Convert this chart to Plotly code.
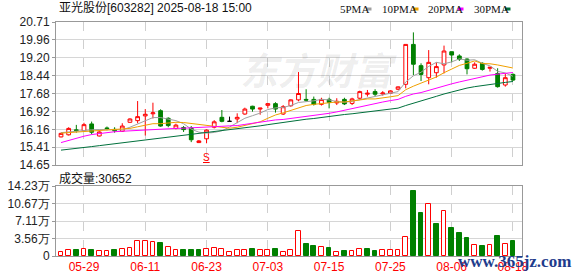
import plotly.graph_objects as go

# ---------------- data ----------------
tick_idx = [3, 11, 19, 27, 35, 43, 51, 59]
tick_labels = ["05-29", "06-11", "06-23", "07-03", "07-15", "07-25", "08-06", "08-18"]

opens = [15.84, 15.93, 16.14, 16.11, 16.39, 15.88, 16.22, 16.16, 16.08, 16.46,
         16.53, 16.73, 16.82, 16.95, 16.63, 16.20, 16.24, 16.22, 15.60, 15.76,
         16.25, 16.67, 16.50, 16.60, 16.81, 17.14, 17.02, 17.18, 17.25, 16.81,
         17.16, 17.41, 17.43, 17.43, 17.22, 17.43, 17.28, 17.43, 17.26, 17.48,
         17.65, 17.76, 17.66, 17.69, 17.86, 18.07, 19.76, 18.86, 18.35, 18.56,
         18.89, 19.45, 19.27, 19.14, 18.75, 18.96, 18.75, 18.53, 18.04, 18.49]
highs = [16.02, 16.25, 16.35, 16.44, 16.49, 16.08, 16.28, 16.25, 16.42, 16.63,
         17.36, 17.02, 17.29, 17.01, 16.67, 16.40, 16.30, 16.30, 15.71, 16.16,
         16.55, 16.98, 16.70, 16.84, 17.08, 17.16, 17.07, 17.26, 17.31, 17.19,
         17.43, 18.59, 17.86, 17.55, 17.50, 17.50, 17.48, 17.50, 17.50, 17.80,
         17.83, 17.86, 17.78, 17.82, 17.98, 19.76, 20.27, 18.96, 19.52, 19.00,
         19.71, 19.46, 19.34, 19.17, 19.00, 19.00, 18.80, 18.75, 18.53, 18.53]
lows = [15.82, 15.90, 16.02, 16.08, 15.95, 15.86, 16.12, 16.02, 16.05, 16.44,
        16.42, 15.90, 16.62, 16.27, 16.25, 16.16, 16.05, 15.62, 15.58, 15.57,
        16.20, 16.46, 16.48, 16.42, 16.78, 16.91, 16.78, 17.05, 16.87, 16.77,
        17.12, 17.35, 17.33, 17.17, 17.17, 17.05, 17.19, 17.19, 17.19, 17.43,
        17.55, 17.57, 17.59, 17.66, 17.82, 17.90, 18.46, 18.21, 18.07, 18.35,
        18.53, 19.00, 19.06, 18.49, 18.73, 18.65, 18.61, 17.93, 17.97, 18.21]
closes = [15.99, 16.20, 16.11, 16.36, 16.04, 16.05, 16.19, 16.10, 16.30, 16.60,
          16.70, 16.80, 16.86, 16.30, 16.32, 16.34, 16.15, 15.72, 15.67, 16.13,
          16.48, 16.50, 16.50, 16.67, 17.02, 17.02, 17.06, 17.25, 17.02, 17.12,
          17.41, 17.68, 17.40, 17.22, 17.43, 17.30, 17.35, 17.24, 17.45, 17.76,
          17.69, 17.65, 17.70, 17.79, 17.96, 19.76, 18.92, 18.49, 19.00, 18.82,
          19.48, 19.31, 19.13, 18.73, 18.92, 18.70, 18.79, 17.97, 18.35, 18.25]

# volume in 手
volumes = [9000, 13000, 11700, 15000, 11700, 11000, 9600, 11700, 15000, 17000,
           31500, 31500, 28000, 26000, 19200, 13000, 13000, 13000, 11700, 15000,
           17000, 15000, 9000, 13000, 13000, 15000, 11700, 11700, 15000, 9000,
           13000, 50000, 24000, 21000, 19000, 15800, 9000, 11000, 11000, 14500,
           15000, 11000, 12300, 12300, 12300, 37700, 132000, 87000, 105000, 65000,
           92500, 56000, 46000, 35600, 23300, 21000, 23300, 39700, 25300, 30652]
# volume colour: 1 = rise vs previous close (red hollow), 0 = fall (green)
vol_up = [1, 1, 0, 1, 0, 1, 1, 0, 1, 1,
          1, 1, 1, 0, 1, 1, 0, 0, 0, 1,
          1, 1, 1, 1, 1, 0, 1, 1, 0, 1,
          1, 1, 0, 0, 1, 0, 1, 0, 1, 1,
          0, 0, 1, 1, 1, 1, 0, 0, 1, 0,
          1, 0, 0, 0, 1, 0, 1, 0, 1, 0]

ma5 = [16.02, 16.05, 16.08, 16.14, 16.14, 16.15, 16.15, 16.15, 16.14, 16.25,
       16.38, 16.50, 16.66, 16.66, 16.60, 16.53, 16.40, 16.17, 16.04, 16.00,
       16.03, 16.10, 16.26, 16.46, 16.63, 16.74, 16.85, 17.00, 17.07, 17.09,
       17.17, 17.30, 17.33, 17.37, 17.43, 17.41, 17.34, 17.31, 17.35, 17.42,
       17.50, 17.56, 17.65, 17.72, 17.76, 18.17, 18.43, 18.58, 18.83, 19.00,
       18.94, 19.02, 19.15, 19.09, 19.11, 18.96, 18.85, 18.62, 18.55, 18.41]
ma10 = [16.00, 16.02, 16.04, 16.07, 16.08, 16.09, 16.12, 16.14, 16.17, 16.20,
        16.27, 16.33, 16.40, 16.40, 16.43, 16.46, 16.45, 16.41, 16.35, 16.30,
        16.28, 16.25, 16.21, 16.25, 16.32, 16.39, 16.48, 16.63, 16.77, 16.86,
        16.96, 17.08, 17.17, 17.22, 17.26, 17.29, 17.32, 17.32, 17.36, 17.42,
        17.45, 17.45, 17.48, 17.54, 17.59, 17.84, 17.99, 18.12, 18.27, 18.38,
        18.56, 18.72, 18.87, 18.96, 19.06, 18.95, 18.94, 18.89, 18.82, 18.76]
ma20 = [15.60, 15.70, 15.79, 15.87, 15.94, 15.99, 16.03, 16.06, 16.08, 16.10,
        16.12, 16.14, 16.16, 16.18, 16.19, 16.20, 16.21, 16.22, 16.23, 16.25,
        16.27, 16.29, 16.31, 16.32, 16.37, 16.42, 16.46, 16.52, 16.56, 16.58,
        16.62, 16.66, 16.69, 16.73, 16.79, 16.84, 16.90, 16.97, 17.06, 17.14,
        17.20, 17.26, 17.32, 17.38, 17.43, 17.56, 17.66, 17.72, 17.82, 17.90,
        18.00, 18.09, 18.17, 18.25, 18.32, 18.39, 18.46, 18.50, 18.55, 18.57]
ma30 = [15.28, 15.31, 15.35, 15.38, 15.43, 15.47, 15.51, 15.55, 15.58, 15.62,
        15.67, 15.71, 15.75, 15.79, 15.82, 15.86, 15.90, 15.93, 15.96, 16.00,
        16.05, 16.09, 16.13, 16.17, 16.21, 16.26, 16.31, 16.36, 16.41, 16.45,
        16.50, 16.55, 16.59, 16.62, 16.67, 16.71, 16.75, 16.79, 16.82, 16.86,
        16.90, 16.92, 16.95, 17.00, 17.06, 17.17, 17.26, 17.35, 17.47, 17.56,
        17.66, 17.75, 17.84, 17.91, 17.97, 18.02, 18.08, 18.11, 18.15, 18.19]

price_ticks = [14.65, 15.41, 16.16, 16.92, 17.68, 18.44, 19.20, 19.96, 20.71]
vol_ticks = [0, 35575, 71150, 106725, 142300]
vol_tick_text = ["0", "3.56万", "7.11万", "10.67万", "14.23万"]

title_text = "亚光股份[603282] 2025-08-18 15:00"
vol_label = "成交量:30652"

# ---------------- styles ----------------
RED = "#ff0000"
GREEN = "#008000"
MA_COLORS = ["#a0a0a0", "#f0a000", "#ff00ff", "#00703c"]
MA_NAMES = ["5PMA", "10PMA", "20PMA", "30PMA"]

W, H = 578, 276
L, R, T, B = 56, 56, 22, 20
PW, PH = W - L - R, H - T - B


def px(X):
    return (X - L) / PW


def py(Y):
    return (H - B - Y) / PH


n = len(closes)
idx = list(range(n))
up = [i for i in idx if closes[i] > opens[i]]
dn = [i for i in idx if closes[i] < opens[i]]
dj = [i for i in idx if closes[i] == opens[i]]


def sub(arr, ii):
    return [arr[i] for i in ii]


fig = go.Figure()

fig.add_trace(go.Candlestick(
    x=up, open=sub(opens, up), high=sub(highs, up), low=sub(lows, up), close=sub(closes, up),
    increasing=dict(line=dict(color=RED, width=1), fillcolor="white"),
    decreasing=dict(line=dict(color=RED, width=1), fillcolor="white"),
    xaxis="x", yaxis="y", showlegend=False, hoverinfo="skip"))
fig.add_trace(go.Candlestick(
    x=dn, open=sub(opens, dn), high=sub(highs, dn), low=sub(lows, dn), close=sub(closes, dn),
    increasing=dict(line=dict(color=GREEN, width=1), fillcolor=GREEN),
    decreasing=dict(line=dict(color=GREEN, width=1), fillcolor=GREEN),
    xaxis="x", yaxis="y", showlegend=False, hoverinfo="skip"))
fig.add_trace(go.Candlestick(
    x=dj, open=sub(opens, dj), high=sub(highs, dj), low=sub(lows, dj), close=sub(closes, dj),
    increasing=dict(line=dict(color="black", width=1), fillcolor="black"),
    decreasing=dict(line=dict(color="black", width=1), fillcolor="black"),
    xaxis="x", yaxis="y", showlegend=False, hoverinfo="skip"))

for ma, col, name in zip([ma5, ma10, ma20, ma30], MA_COLORS, MA_NAMES):
    fig.add_trace(go.Scatter(x=idx, y=ma, mode="lines", name=name,
                             line=dict(color=col, width=1), xaxis="x", yaxis="y",
                             showlegend=False, hoverinfo="skip"))

fig.add_trace(go.Bar(
    x=idx, y=volumes, width=0.62,
    marker=dict(color=["white" if u else GREEN for u in vol_up],
                line=dict(color=[RED if u else GREEN for u in vol_up], width=1)),
    xaxis="x2", yaxis="y2", showlegend=False, hoverinfo="skip"))

axis_common = dict(showline=True, mirror=True, linecolor="#999999", linewidth=1,
                   zeroline=False, automargin=False)
xr = [-0.653, 60.18]

fig.update_layout(
    width=W, height=H, margin=dict(l=L, r=R, t=T, b=B, autoexpand=False),
    paper_bgcolor="white", plot_bgcolor="white",
    font=dict(family="Liberation Sans, Arial, sans-serif", size=12, color="#222222"),
    bargap=0,
    xaxis=dict(domain=[0, 1], anchor="y", range=xr, tickvals=tick_idx,
               showticklabels=False, showgrid=True, gridcolor="#cfcfcf",
               griddash="dash", ticks="", rangeslider=dict(visible=False),
               **axis_common),
    yaxis=dict(domain=[py(165), 1], anchor="x", range=[14.65, 20.71],
               tickvals=price_ticks, ticktext=[f"{v:.2f}" for v in price_ticks],
               showgrid=True, gridcolor="#d6d6d6", ticks="outside", ticklen=3,
               tickcolor="#999999", tickfont=dict(size=12, color="#222222"),
               **axis_common),
    xaxis2=dict(domain=[0, 1], anchor="y2", range=xr, tickvals=tick_idx,
                ticktext=tick_labels, tickfont=dict(size=12, color=RED),
                showgrid=True, gridcolor="#cfcfcf", griddash="dash", ticks="",
                rangeslider=dict(visible=False), **axis_common),
    yaxis2=dict(domain=[0, py(186)], anchor="x2", range=[0, 142300],
                tickvals=vol_ticks, ticktext=vol_tick_text,
                showgrid=True, gridcolor="#d6d6d6", ticks="outside", ticklen=3,
                tickcolor="#999999", tickfont=dict(size=12, color="#222222"),
                **axis_common),
)

ann = []
ann.append(dict(text=title_text, x=px(57), y=py(8), xref="paper", yref="paper",
                xanchor="left", yanchor="middle", showarrow=False,
                font=dict(size=12, color="#111111",
                          family="Liberation Sans, Noto Sans CJK SC, sans-serif")))
ann.append(dict(text=vol_label, x=px(57), y=py(178), xref="paper", yref="paper",
                xanchor="left", yanchor="middle", showarrow=False,
                font=dict(size=12, color="#111111",
                          family="Liberation Sans, Noto Sans CJK SC, sans-serif")))

leg_x = [338, 380, 426, 472]
sw_x = [366, 413, 458, 505]
shapes = []
for lx, sx, name, col in zip(leg_x, sw_x, MA_NAMES, MA_COLORS):
    ann.append(dict(text=name, x=px(lx), y=py(9), xref="paper", yref="paper",
                    xanchor="left", yanchor="middle", showarrow=False,
                    font=dict(size=11, color="#111111",
                              family="Liberation Serif, serif")))
    shapes.append(dict(type="rect", xref="paper", yref="paper",
                       x0=px(sx), x1=px(sx + 5.5), y0=py(10.5), y1=py(7.5),
                       fillcolor=col, line=dict(width=0)))

# dividend marker
ann.append(dict(text="<u>S</u>", x=19, y=14.96, xref="x", yref="y", showarrow=False,
                xanchor="center", yanchor="middle",
                font=dict(size=10, color=RED, family="Liberation Sans")))

# watermarks
ann.append(dict(text="东方财富", x=px(318), y=py(68), xref="paper", yref="paper",
                showarrow=False, xanchor="center", yanchor="middle",
                font=dict(size=38, color="rgba(0,0,0,0.07)",
                          family="Noto Sans CJK SC", style="italic", weight="bold")))
ann.append(dict(text="www.365jz.com", x=px(514), y=py(261.5), xref="paper", yref="paper",
                showarrow=False, xanchor="center", yanchor="middle",
                font=dict(size=17, color="#1e3c8c", family="Liberation Serif",
                          weight="bold")))

fig.update_layout(annotations=ann, shapes=shapes)

fig.write_html("out.html")
